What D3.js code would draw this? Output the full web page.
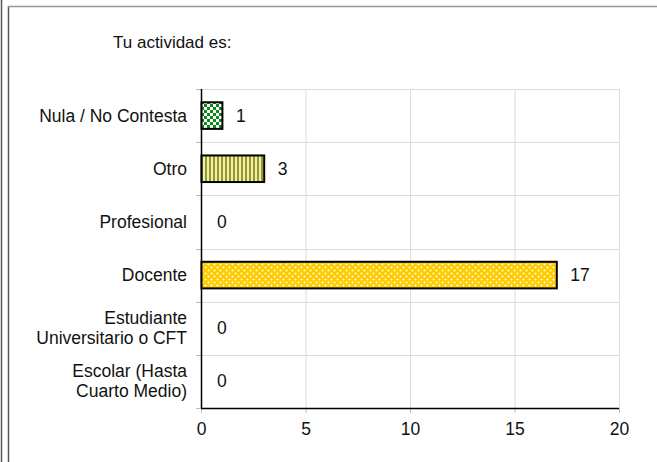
<!DOCTYPE html>
<html>
<head>
<meta charset="utf-8">
<script src="https://cdn.jsdelivr.net/npm/d3@7"></script>
<style>
  body { margin: 0; background: #fff; }
  text { font-family: "Liberation Sans", Arial, sans-serif; }
</style>
</head>
<body>
<svg id="chart" width="657" height="462"></svg>
<script>
// data, top to bottom as drawn
var categories = ['Nula / No Contesta', 'Otro', 'Profesional', 'Docente',
  'Estudiante|Universitario o CFT', 'Escolar (Hasta|Cuarto Medio)'];
var values = [1, 3, 0, 17, 0, 0];
var xTicks = [0, 5, 10, 15, 20];
var title = 'Tu actividad es:';

var svg = d3.select('#chart');
var margin = { left: 201, right: 38, top: 89, bottom: 54 };
var width = 657 - margin.left - margin.right;
var height = 462 - margin.top - margin.bottom;
var labelSize = 17.5;

// frame lines
svg.append('line').attr('x1', 1.5).attr('x2', 1.5).attr('y1', 0).attr('y2', 462)
  .attr('stroke', '#555').attr('stroke-width', 1.5);
svg.append('line').attr('x1', 8.5).attr('x2', 8.5).attr('y1', 6).attr('y2', 462)
  .attr('stroke', '#555').attr('stroke-width', 1.5);
svg.append('line').attr('x1', 8).attr('x2', 657).attr('y1', 6.5).attr('y2', 6.5)
  .attr('stroke', '#999').attr('stroke-width', 1.5);

// patterns
var defs = svg.append('defs');
var p1 = defs.append('pattern').attr('id', 'checker').attr('patternUnits', 'userSpaceOnUse')
  .attr('width', 6).attr('height', 6);
p1.append('rect').attr('width', 6).attr('height', 6).attr('fill', '#fff');
p1.append('rect').attr('width', 3).attr('height', 3).attr('fill', '#11881f');
p1.append('rect').attr('x', 3).attr('y', 3).attr('width', 3).attr('height', 3).attr('fill', '#11881f');

var p2 = defs.append('pattern').attr('id', 'stripes').attr('patternUnits', 'userSpaceOnUse')
  .attr('width', 4).attr('height', 4);
p2.append('rect').attr('width', 4).attr('height', 4).attr('fill', '#eeeebb');
p2.append('rect').attr('width', 2).attr('height', 4).attr('fill', '#999922');

// gold with a lattice of pale crosses
var p3 = defs.append('pattern').attr('id', 'dots').attr('patternUnits', 'userSpaceOnUse')
  .attr('width', 6).attr('height', 6);
p3.append('rect').attr('width', 6).attr('height', 6).attr('fill', '#ffcc00');
[[1, 1], [4, 4]].forEach(function(c) {
  p3.append('rect').attr('x', c[0] - 1).attr('y', c[1]).attr('width', 3).attr('height', 1).attr('fill', '#ffe680');
  p3.append('rect').attr('x', c[0]).attr('y', c[1] - 1).attr('width', 1).attr('height', 3).attr('fill', '#ffe680');
  p3.append('rect').attr('x', c[0]).attr('y', c[1]).attr('width', 1).attr('height', 1).attr('fill', '#fff8d8');
});
var fills = ['url(#checker)', 'url(#stripes)', '#fff', 'url(#dots)', '#fff', '#fff'];

var x = d3.scaleLinear().domain([0, 20]).range([0, width]);
var y = d3.scaleBand().domain(categories).range([0, height]).paddingInner(0.5).paddingOuter(0.25);
var yb = d3.scaleBand().domain(categories).range([0, height]);

svg.append('text').attr('x', 113).attr('y', 48).attr('font-size', 17).attr('fill', '#111').text(title);

var g = svg.append('g').attr('transform', 'translate(' + margin.left + ',' + margin.top + ')');

// grid
g.selectAll('.vgrid').data(xTicks.slice(1)).enter().append('line')
  .attr('x1', function(d) { return x(d) + 0.5; }).attr('x2', function(d) { return x(d) + 0.5; })
  .attr('y1', 0).attr('y2', height).attr('stroke', '#dcdcdc');
g.selectAll('.hgrid').data(categories).enter().append('line')
  .attr('x1', 0).attr('x2', width)
  .attr('y1', function(d) { return Math.round(yb(d)) + 0.5; })
  .attr('y2', function(d) { return Math.round(yb(d)) + 0.5; })
  .attr('stroke', '#dcdcdc');

// x axis
var xAxis = g.append('g').attr('transform', 'translate(0,' + height + ')')
  .call(d3.axisBottom(x).tickValues(xTicks).tickSize(5).tickPadding(10));
xAxis.select('.domain').remove();
xAxis.selectAll('line').attr('stroke', '#bbb');
xAxis.selectAll('text').attr('font-size', labelSize).attr('fill', '#111')
  .style('font-family', '"Liberation Sans", Arial, sans-serif');
g.append('line').attr('x1', 0).attr('x2', width).attr('y1', height + 0.5).attr('y2', height + 0.5)
  .attr('stroke', '#000').attr('stroke-width', 1.5);

// y ticks at boundaries
g.selectAll('.ytick').data(categories.concat(['end'])).enter().append('line')
  .attr('x1', -5).attr('x2', 0)
  .attr('y1', function(d, i) { return Math.round(i * yb.step()) + 0.5; })
  .attr('y2', function(d, i) { return Math.round(i * yb.step()) + 0.5; })
  .attr('stroke', '#bbb');
g.append('line').attr('x1', 0.5).attr('x2', 0.5).attr('y1', 0).attr('y2', height)
  .attr('stroke', '#000').attr('stroke-width', 1.5);

// bars
g.selectAll('.bar').data(values).enter().filter(function(d) { return d > 0; }).append('rect')
  .attr('x', x(0) + 0.5)
  .attr('y', function(d) { return y(categories[values.indexOf(d)]); })
  .attr('width', function(d) { return x(d) - x(0); })
  .attr('height', y.bandwidth())
  .attr('fill', function(d) { return fills[values.indexOf(d)]; })
  .attr('stroke', '#000').attr('stroke-width', 2);

// value labels
g.selectAll('.val').data(values).enter().append('text')
  .attr('x', function(d) { return x(d) + (d > 0 ? 14 : 16); })
  .attr('y', function(d, i) { return y(categories[i]) + y.bandwidth() / 2 + 6; })
  .attr('font-size', labelSize).attr('fill', '#111')
  .text(function(d) { return d; });

// category labels
g.selectAll('.cat').data(categories).enter().append('text')
  .attr('text-anchor', 'end').attr('font-size', labelSize).attr('fill', '#111')
  .attr('x', -14)
  .attr('y', function(d) { return y(d) + y.bandwidth() / 2 + 6; })
  .each(function(d) {
    var lines = d.split('|');
    var t = d3.select(this);
    lines.forEach(function(l, k) {
      t.append('tspan').attr('x', -14)
        .attr('dy', k === 0 ? -(lines.length - 1) * 10 : 20)
        .text(l);
    });
  });
</script>
</body>
</html>
